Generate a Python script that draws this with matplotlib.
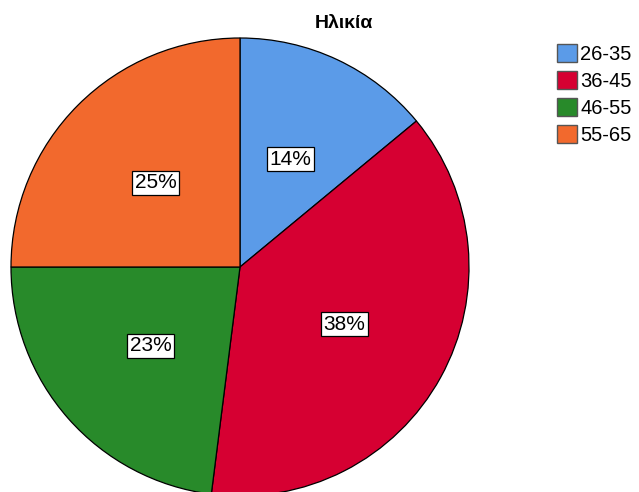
import matplotlib
matplotlib.use('Agg')
import matplotlib.pyplot as plt
from matplotlib.patches import Patch

plt.rcParams['font.family'] = ['Liberation Sans', 'DejaVu Sans']

# age groups and their share (%)
groups = ['26-35', '36-45', '46-55', '55-65']
shares = [14, 38, 23, 25]
colors = ['#5B9BE8', '#D60032', '#288A2A', '#F2692D']
title = 'Ηλικία'

fig = plt.figure(figsize=(6.39, 4.92), dpi=100)
# pie axes: center ~ (240, 267) px, radius ~229 px
ax = fig.add_axes([11 / 639, (492 - 496) / 492, 458 / 639, 458 / 492])

wedges, texts, autotexts = ax.pie(
    shares, colors=colors, startangle=90, counterclock=False,
    autopct='%1.0f%%', pctdistance=0.52,
    wedgeprops=dict(edgecolor='black', linewidth=0.9),
    textprops=dict(fontsize=15, color='black'),
)
for t in autotexts:
    t.set_bbox(dict(boxstyle='square,pad=0.12', facecolor='white',
                    edgecolor='black', linewidth=0.9))
ax.set_xlim(-1.0, 1.0)
ax.set_ylim(-1.0, 1.0)
ax.set_aspect('equal')

fig.text(344 / 639, 1 - 24 / 492, title, fontsize=14, fontweight='bold',
         ha='center', va='center')

handles = [Patch(facecolor=c, edgecolor='#555555', linewidth=1.0) for c in colors]
fig.legend(handles, groups, loc='upper left',
           bbox_to_anchor=(557 / 639, 1 - 44 / 492),
           frameon=False, fontsize=14.5, handlelength=1.0, handleheight=1.0,
           handletextpad=0.15, labelspacing=0.35, borderpad=0.0,
           borderaxespad=0.0)

fig.savefig('out.png', dpi=100)
